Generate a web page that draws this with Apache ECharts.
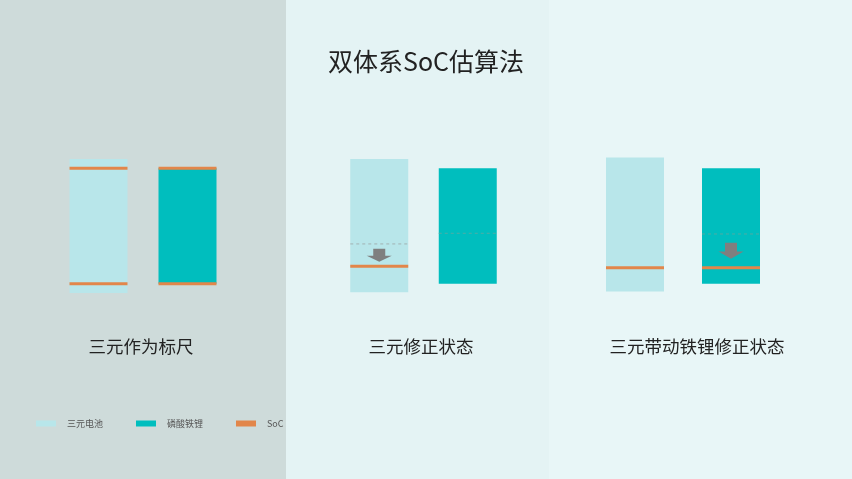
<!DOCTYPE html>
<html>
<head>
<meta charset="utf-8">
<script src="https://cdn.jsdelivr.net/npm/echarts@6/dist/echarts.min.js"></script>
<style>html,body{margin:0;padding:0;}#c{width:852px;height:479px;}</style>
</head>
<body>
<div id="c"></div>
<script>
// ---- data ----
const categories = ['三元电池', '磷酸铁锂'];
const panelTitles = ['三元作为标尺', '三元修正状态', '三元带动铁锂修正状态'];
// bar extents [low, high] in SoC % (relative to 磷酸铁锂 capacity)
const nmcRange = [[-7.8, 107.8], [-7.2, 107.8], [-6.6, 109.2]];
const lfpRange = [[0, 100], [0, 100], [0, 100]];
// SoC marker lines
const socNmc = [[100, 0], [15.3], [14]];
const socLfp = [[100, 0], [], [14]];
// previous (dashed) SoC positions
const prevNmc = [[], [34.5], []];
const prevLfp = [[], [43.7], [43.1]];
// correction arrows [from, to]
const arrowNmc = [[], [[30.4, 19.2]], []];
const arrowLfp = [[], [], [[35.6, 21.8]]];
const legendNames = ['三元电池', '磷酸铁锂', 'SoC'];
const mainTitle = '双体系SoC估算法';

// ---- style ----
const C_NMC = '#b8e6ea', C_LFP = '#00bebe', C_SOC = '#e2864a';
const C_DASH_NMC = '#a2b3b3', C_DASH_LFP = '#4fada5', C_ARROW = '#7f7f7f';
const BAR_W = 58;
const FONT = '"Noto Sans CJK SC", "Noto Sans", sans-serif';
const gridPos = [
  {left: 54, width: 178},
  {left: 335, width: 177},
  {left: 587, width: 192}
];
const titlePos = [141, 421, 697];

function rectItem(params, api) {
  const p1 = api.coord([api.value(0), api.value(2)]);
  const p2 = api.coord([api.value(0), api.value(1)]);
  return {type: 'rect', shape: {x: p1[0] - BAR_W / 2, y: p1[1], width: BAR_W, height: p2[1] - p1[1]},
    style: {fill: api.visual('color')}};
}
function lineItem(width, dash) {
  return function (params, api) {
    const p = api.coord([api.value(0), api.value(1)]);
    return {type: 'line', shape: {x1: p[0] - BAR_W / 2, y1: p[1], x2: p[0] + BAR_W / 2, y2: p[1]},
      style: {stroke: api.visual('color'), lineWidth: width, lineDash: dash}};
  };
}
function arrowItem(params, api) {
  const x = api.value(0);
  const a = api.coord([x, api.value(1)]);
  const b = api.coord([x, api.value(2)]);
  const h = b[1] - a[1];
  const mid = a[1] + h * 0.55;
  const sw = 6, hw = 12.5, cx = a[0];
  return {type: 'polygon', shape: {points: [
    [cx - sw, a[1]], [cx + sw, a[1]], [cx + sw, mid], [cx + hw, mid], [cx, b[1]],
    [cx - hw, mid], [cx - sw, mid]]}, style: {fill: C_ARROW}};
}

const grids = [], xAxes = [], yAxes = [], series = [];
gridPos.forEach((g, i) => {
  grids.push({left: g.left, width: g.width, top: 145, height: 162});
  xAxes.push({type: 'category', data: categories, gridIndex: i, show: false});
  yAxes.push({type: 'value', min: -20, max: 120, gridIndex: i, show: false, splitLine: {show: false}});
  const base = {type: 'custom', xAxisIndex: i, yAxisIndex: i, silent: true};
  series.push(Object.assign({}, base, {name: '三元电池', z: 2, itemStyle: {color: C_NMC}, renderItem: rectItem,
    data: [[0, nmcRange[i][0], nmcRange[i][1]]]}));
  series.push(Object.assign({}, base, {name: '磷酸铁锂', z: 2, itemStyle: {color: C_LFP}, renderItem: rectItem,
    data: [[1, lfpRange[i][0], lfpRange[i][1]]]}));
  series.push(Object.assign({}, base, {name: 'prev', z: 3, itemStyle: {color: C_DASH_NMC}, renderItem: lineItem(1, [3, 3]),
    data: prevNmc[i].map(v => [0, v])}));
  series.push(Object.assign({}, base, {name: 'prev2', z: 3, itemStyle: {color: C_DASH_LFP}, renderItem: lineItem(1, [3, 3]),
    data: prevLfp[i].map(v => [1, v])}));
  series.push(Object.assign({}, base, {name: 'SoC', z: 4, itemStyle: {color: C_SOC}, renderItem: lineItem(3, null),
    data: socNmc[i].map(v => [0, v]).concat(socLfp[i].map(v => [1, v]))}));
  series.push(Object.assign({}, base, {name: 'arrow', z: 5, itemStyle: {color: C_ARROW}, renderItem: arrowItem,
    data: arrowNmc[i].map(a => [0, a[0], a[1]]).concat(arrowLfp[i].map(a => [1, a[0], a[1]]))}));
});

const titles = [{text: mainTitle, left: 'center', top: 49, padding: 0,
  textStyle: {fontSize: 25, fontWeight: 'normal', color: '#222', fontFamily: FONT}}];
panelTitles.forEach((t, i) => titles.push({text: t, left: titlePos[i], top: 338, padding: 0, textAlign: 'center',
  textStyle: {fontSize: 17.5, fontWeight: 'normal', color: '#222', fontFamily: FONT}}));

const chart = echarts.init(document.getElementById('c'));
chart.setOption({
  animation: false,
  backgroundColor: '#e8f6f7',
  graphic: {elements: [
    {type: 'rect', z: -100, shape: {x: 0, y: 0, width: 286, height: 479}, style: {fill: '#cedbda'}},
    {type: 'rect', z: -100, shape: {x: 286, y: 0, width: 263, height: 479}, style: {fill: '#e4f3f4'}}
  ]},
  title: titles,
  legend: {data: legendNames, left: 36, top: 419, padding: 0, icon: 'rect', itemWidth: 20, itemHeight: 6, itemGap: 33,
    selectedMode: false, textStyle: {fontSize: 9, color: '#555', fontFamily: FONT, padding: [0, 0, 0, 6]}},
  grid: grids,
  xAxis: xAxes,
  yAxis: yAxes,
  series: series
});
</script>
</body>
</html>
